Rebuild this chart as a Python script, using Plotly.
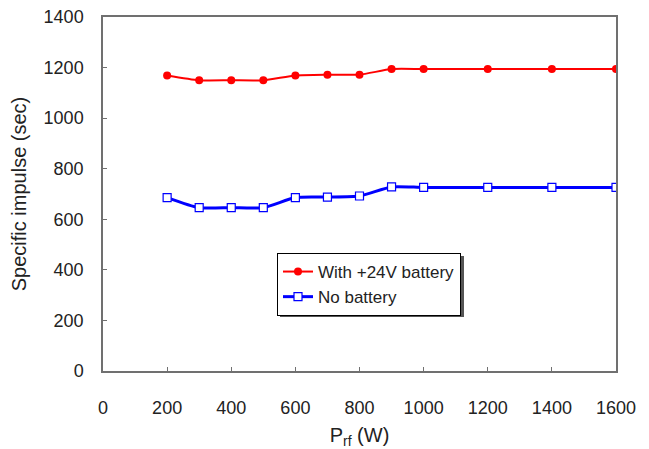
import plotly.graph_objects as go

p_rf = [200, 300, 400, 500, 600, 700, 800, 900, 1000, 1200, 1400, 1600]
with_battery = [1169, 1150, 1150, 1150, 1169, 1172, 1172, 1194, 1194, 1194, 1194, 1194]
no_battery = [686, 646, 646, 646, 686, 688, 692, 728, 726, 726, 726, 726]
x_ticks = [0, 200, 400, 600, 800, 1000, 1200, 1400, 1600]
y_ticks = [0, 200, 400, 600, 800, 1000, 1200, 1400]

FONT = "Liberation Sans, Arial, sans-serif"

fig = go.Figure()
fig.add_trace(go.Scatter(
    x=p_rf, y=with_battery, mode="lines+markers", name="With +24V battery",
    line=dict(color="#ff0000", width=2, shape="spline", smoothing=0.6),
    marker=dict(symbol="circle", size=8, color="#ff0000"),
))
fig.add_trace(go.Scatter(
    x=p_rf, y=no_battery, mode="lines+markers", name="No battery",
    line=dict(color="#0000ff", width=3, shape="spline", smoothing=0.6),
    marker=dict(symbol="square", size=8, color="white", line=dict(color="#0000ff", width=1.2)),
))

axis_common = dict(
    showgrid=False, zeroline=False, showline=True, linecolor="#707070", linewidth=1.5,
    mirror=True, ticks="inside", ticklen=4, tickcolor="#707070", automargin=False,
    tickfont=dict(family=FONT, size=18, color="#222"),
)
fig.update_xaxes(range=[0, 1600], tickvals=x_ticks, ticklabelstandoff=20,
                 title=dict(text="P<sub>rf</sub> (W)", font=dict(family=FONT, size=20, color="#222"), standoff=12),
                 **axis_common)
fig.update_yaxes(range=[0, 1400], tickvals=y_ticks, ticklabelstandoff=14,
                 title=dict(text="Specific impulse (sec)", font=dict(family=FONT, size=20, color="#222"), standoff=12),
                 **axis_common)

# legend shadow
fig.add_shape(type="rect", xref="paper", yref="paper",
              x0=177 / 513, x1=361 / 513, y0=54 / 354, y1=115 / 354,
              fillcolor="#555", line=dict(width=0), layer="above")

fig.update_layout(
    width=649, height=449,
    margin=dict(l=103, r=33, t=17, b=78),
    paper_bgcolor="white", plot_bgcolor="white",
    showlegend=True,
    legend=dict(x=174 / 513, y=118 / 354, xanchor="left", yanchor="top",
                bgcolor="white", bordercolor="black", borderwidth=1,
                font=dict(family=FONT, size=17, color="#222"),
                tracegroupgap=0, itemwidth=30),
)

fig.write_html("out.html", config={"displayModeBar": False},
               post_script="document.body.style.margin='0';")
